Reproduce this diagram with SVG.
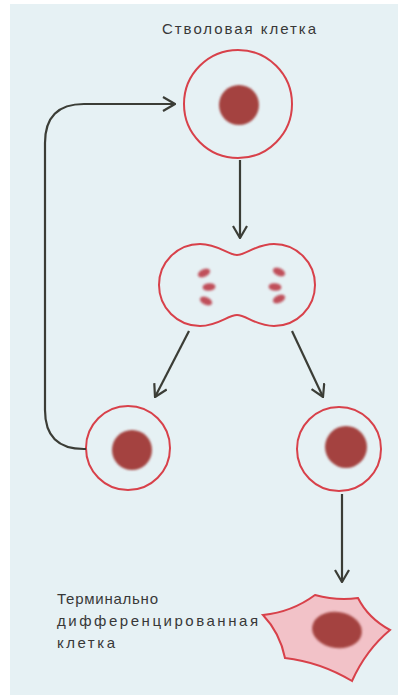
<svg xmlns="http://www.w3.org/2000/svg" width="398" height="695" viewBox="0 0 398 695">
  <style>
    .membrane { fill: none; stroke: #d8414a; stroke-width: 2; }
    .nucleus { fill: #a4433f; filter: url(#soft); }
    .chromo { fill: #c0505a; filter: url(#soft); }
    .link { fill: none; stroke: #3b3d36; stroke-width: 2.2; }
    .label { font-family: "Liberation Sans", Arial, sans-serif; font-size: 15px; fill: #383838; }
  </style>
  <defs>
    <filter id="soft" x="-30%" y="-30%" width="160%" height="160%">
      <feGaussianBlur stdDeviation="1.3"/>
    </filter>
    <marker id="head" viewBox="0 0 14 16" refX="13" refY="8" markerWidth="14" markerHeight="16" markerUnits="userSpaceOnUse" orient="auto">
      <path d="M1,1 L13,8 L1,15" fill="none" stroke="#3b3d36" stroke-width="2.2"/>
    </marker>
  </defs>

  <!-- page background -->
  <rect x="0" y="0" width="398" height="695" fill="#ffffff"/>
  <rect x="10" y="4" width="388" height="691" fill="#e6f1f4"/>

  <!-- stem cell -->
  <g id="stem-cell">
    <text class="label" x="162" y="34" textLength="154" lengthAdjust="spacing">Стволовая клетка</text>
    <circle class="membrane" cx="238" cy="104" r="54"/>
    <circle class="nucleus" cx="239" cy="105" r="20"/>
  </g>

  <!-- cell in division -->
  <g id="dividing-cell">
    <path class="membrane" d="M200,244 A41,41 0 0 0 200,326 C218,326 228,315 237,315 C246,315 256,326 274,326 A41,41 0 0 0 274,244 C256,244 246,255 237,255 C228,255 218,244 200,244 Z"/>
    <ellipse class="chromo" cx="204" cy="273" rx="6.5" ry="3.8" transform="rotate(-25 204 273)"/>
    <ellipse class="chromo" cx="209" cy="287" rx="6.5" ry="3.8" transform="rotate(-5 209 287)"/>
    <ellipse class="chromo" cx="206" cy="301" rx="6.5" ry="3.8" transform="rotate(25 206 301)"/>
    <ellipse class="chromo" cx="279" cy="272" rx="6.5" ry="3.8" transform="rotate(25 279 272)"/>
    <ellipse class="chromo" cx="275" cy="287" rx="6.5" ry="3.8" transform="rotate(5 275 287)"/>
    <ellipse class="chromo" cx="279" cy="299" rx="6.5" ry="3.8" transform="rotate(-25 279 299)"/>
  </g>

  <!-- daughter cell that stays a stem cell -->
  <g id="daughter-left">
    <circle class="membrane" cx="128" cy="448" r="42"/>
    <circle class="nucleus" cx="132" cy="450" r="20"/>
  </g>

  <!-- daughter cell that goes on to differentiate -->
  <g id="daughter-right">
    <circle class="membrane" cx="339" cy="449" r="42"/>
    <circle class="nucleus" cx="346" cy="447" r="21"/>
  </g>

  <!-- terminally differentiated cell -->
  <g id="terminal-cell">
    <text class="label" x="57" y="604" textLength="101" lengthAdjust="spacing">Терминально</text>
    <text class="label" x="57" y="626" textLength="201" lengthAdjust="spacing">дифференцированная</text>
    <text class="label" x="57" y="648" textLength="58" lengthAdjust="spacing">клетка</text>
    <path d="M263,615 Q292,612 315,595 Q337,601 358,598 Q368,618 390,630 Q366,650 352,681 Q320,662 285,658 Q280,633 263,615 Z" fill="#f2c2c8" stroke="#d8414a" stroke-width="2" stroke-linejoin="miter"/>
    <ellipse class="nucleus" cx="337" cy="630" rx="25" ry="18" transform="rotate(8 337 630)" fill="#8e3a36"/>
  </g>

  <!-- connectors -->
  <g id="connectors">
    <path class="link" d="M240,160 L240,238" marker-end="url(#head)"/>
    <path class="link" d="M189,331 L155,397" marker-end="url(#head)"/>
    <path class="link" d="M292,331 L323,397" marker-end="url(#head)"/>
    <path class="link" d="M342,494 L342,582" marker-end="url(#head)"/>
    <path class="link" d="M86,449 L84,449 Q45,449 45,410 L45,143 Q45,104 84,104 L175,104" marker-end="url(#head)"/>
  </g>
</svg>
